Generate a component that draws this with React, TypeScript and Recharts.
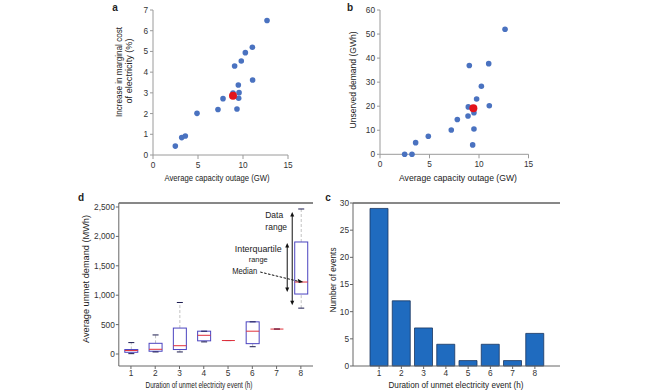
import React from "react";
import {
  ScatterChart,
  Scatter,
  BarChart,
  ComposedChart,
  Bar,
  XAxis,
  YAxis,
  ReferenceLine,
  Label,
} from "recharts";

const FONT = "'Liberation Sans', Arial, sans-serif";
const tickStyle = { fontSize: 8.3, fill: "#333", fontFamily: FONT };

// panel a: outage (GW) vs increase in marginal cost (%)
const aOutage = [2.48, 3.19, 3.59, 4.89, 7.22, 7.78, 9.07, 9.33, 9.48, 9.56, 9.52, 9.81, 10.26, 11.04, 11.07, 12.67, 8.89];
const aCost = [0.43, 0.84, 0.92, 2.01, 2.2, 2.72, 4.3, 2.22, 3.38, 3.01, 2.74, 4.54, 4.94, 5.2, 3.62, 6.49, 2.99];
const aMeanOutage = [8.89];
const aMeanCost = [2.86];

// panel b: outage (GW) vs unserved demand (GWh)
const bOutage = [2.49, 3.23, 3.6, 4.88, 7.2, 7.81, 8.89, 8.92, 9.02, 9.36, 9.49, 9.49, 9.76, 10.24, 10.98, 11.04, 12.63];
const bDemand = [0, 0, 4.85, 7.48, 10.1, 14.5, 15.9, 19.7, 36.9, 3.9, 10.5, 17.3, 23.0, 28.3, 37.7, 20.2, 52.0];
const bMeanOutage = [9.43];
const bMeanDemand = [19.1];

// panel c: events per duration
const hours = [1, 2, 3, 4, 5, 6, 7, 8];
const eventCounts = [29, 12, 7, 4, 1, 4, 1, 6];

// panel d: average unmet demand (MWh) per duration
const dMin = [6, 35, 35, 206, 229, 124, 424, 780];
const dQ1 = [29, 47, 76, 224, 229, 176, 424, 1020];
const dMedian = [59, 80, 141, 318, 229, 388, 424, 1224];
const dQ3 = [76, 182, 441, 388, 229, 547, 424, 1905];
const dMax = [194, 324, 876, 388, 229, 547, 424, 2466];

const points = (xs: number[], ys: number[]) => xs.map((x, i) => ({ x, y: ys[i] }));
const eventData = hours.map((h, i) => ({ hour: h, count: eventCounts[i] }));
const boxData = hours.map((h, i) => ({
  hour: h,
  min: dMin[i],
  q1: dQ1[i],
  median: dMedian[i],
  q3: dQ3[i],
  max: dMax[i],
}));

type TxtProps = {
  x: number;
  y: number;
  text: string;
  len?: number;
  size?: number;
  rotate?: boolean;
  bold?: boolean;
  anchor?: "start" | "middle" | "end";
};

const Txt = ({ x, y, text, len, size = 9.5, rotate, bold, anchor = "middle" }: TxtProps) => (
  <text
    x={x}
    y={y}
    textAnchor={anchor}
    dominantBaseline="central"
    fontSize={size}
    fontFamily={FONT}
    fontWeight={bold ? 700 : 400}
    fill="#222"
    textLength={len}
    lengthAdjust={len ? "spacingAndGlyphs" : undefined}
    transform={rotate ? `rotate(-90 ${x} ${y})` : undefined}
  >
    {text}
  </text>
);

const dot = (r: number, fill: string) => (p: any) => <circle cx={p.cx} cy={p.cy} r={r} fill={fill} />;

const Arrow = ({ x, y1, y2 }: { x: number; y1: number; y2: number }) => (
  <g>
    <line x1={x} x2={x} y1={y1 + 3} y2={y2 - 3} stroke="#111" strokeWidth={1} />
    <polygon points={`${x},${y1} ${x - 2},${y1 + 4.5} ${x + 2},${y1 + 4.5}`} fill="#111" />
    <polygon points={`${x},${y2} ${x - 2},${y2 - 4.5} ${x + 2},${y2 - 4.5}`} fill="#111" />
  </g>
);

// box drawn from a bar spanning 0..max, so the value scale can be recovered
const BoxShape = (p: any) => {
  const { x, y, width, height, payload, index } = p;
  const { min, q1, median, q3, max } = payload;
  const py = (v: number) => y + height * (1 - v / max);
  const cx = x + width / 2;
  const last = index === boxData.length - 1;
  return (
    <g>
      <line x1={cx} x2={cx} y1={py(q3)} y2={py(max)} stroke="#c2c2c2" strokeDasharray="3 2" />
      <line x1={cx} x2={cx} y1={py(min)} y2={py(q1)} stroke="#c2c2c2" strokeDasharray="3 2" />
      <rect x={x} y={py(q3)} width={width} height={py(q1) - py(q3)} fill="#fff" stroke="#4b44c0" strokeWidth={1} />
      <line x1={cx - 3} x2={cx + 3} y1={py(max)} y2={py(max)} stroke="#1b1b4f" />
      <line x1={cx - 3} x2={cx + 3} y1={py(min)} y2={py(min)} stroke="#1b1b4f" />
      <line x1={x} x2={x + width} y1={py(median)} y2={py(median)} stroke="#e0303a" strokeWidth={1} />
      {last && (
        <g>
          <Arrow x={cx - 9} y1={py(max) + 3} y2={py(min) - 3} />
          <Arrow x={cx - 14} y1={py(q3) + 1} y2={py(q1) - 2} />
          <Txt x={cx - 27} y={py(max) + 6} text="Data" size={8.5} />
          <Txt x={cx - 25} y={py(max) + 18} text="range" size={8.5} />
          <Txt x={cx - 43} y={py(q3) + 7} text="Interquartile" size={8.8} len={47} />
          <Txt x={cx - 43} y={py(q3) + 18} text="range" size={7.4} />
          <Txt x={cx - 44} y={py(median) - 11} text="Median" size={8.2} anchor="end" len={25} />
          <line
            x1={cx - 41}
            y1={py(median) - 10}
            x2={cx - 2}
            y2={py(median) - 0.5}
            stroke="#111"
            strokeDasharray="2.5 1.5"
          />
          <polygon
            points={`${cx + 2},${py(median)} ${cx - 3.5},${py(median) - 3.3} ${cx - 2.5},${py(median) + 1}`}
            fill="#111"
          />
        </g>
      )}
    </g>
  );
};

const grayAxis = { stroke: "#9a9a9a" };
const darkAxis = { stroke: "#666" };

const App = () => {
  return (
    <div style={{ position: "absolute", left: 0, top: 0, width: 650, height: 390, background: "#fff" }}>
      {/* a */}
      <div style={{ position: "absolute", left: 0, top: 0 }}>
        <ScatterChart width={300} height={190} margin={{ top: 10, right: 12, bottom: 15, left: 113 }}>
          <XAxis
            type="number"
            dataKey="x"
            domain={[0, 15]}
            ticks={[0, 5, 10, 15]}
            height={20}
            tickSize={4}
            tickMargin={3}
            tick={tickStyle}
            axisLine={grayAxis}
            tickLine={grayAxis}
          />
          <YAxis
            type="number"
            dataKey="y"
            domain={[0, 7]}
            ticks={[0, 1, 2, 3, 4, 5, 6, 7]}
            width={40}
            tickSize={3}
            tickMargin={2}
            tick={tickStyle}
            axisLine={grayAxis}
            tickLine={grayAxis}
          >
            <Label
              content={() => (
                <g>
                  <Txt x={115} y={7} text="a" bold size={10} />
                  <Txt x={118} y={72} text="Increase in marginal cost" rotate len={90} />
                  <Txt x={128} y={71} text="of electricity (%)" rotate len={65} />
                  <Txt x={217} y={177} text="Average capacity outage (GW)" len={105} />
                </g>
              )}
            />
          </YAxis>
          <Scatter data={points(aOutage, aCost)} shape={dot(2.8, "#4a72c0")} isAnimationActive={false} />
          <Scatter data={points(aMeanOutage, aMeanCost)} shape={dot(4, "#e3141c")} isAnimationActive={false} />
        </ScatterChart>
      </div>

      {/* b */}
      <div style={{ position: "absolute", left: 300, top: 0 }}>
        <ScatterChart width={250} height={190} margin={{ top: 10, right: 21.5, bottom: 15.7, left: 40 }}>
          <XAxis
            type="number"
            dataKey="x"
            domain={[0, 15]}
            ticks={[0, 5, 10, 15]}
            height={20}
            tickSize={4}
            tickMargin={3}
            tick={tickStyle}
            axisLine={grayAxis}
            tickLine={grayAxis}
          />
          <YAxis
            type="number"
            dataKey="y"
            domain={[0, 60]}
            ticks={[0, 10, 20, 30, 40, 50, 60]}
            width={40}
            tickSize={3}
            tickMargin={2}
            tick={tickStyle}
            axisLine={grayAxis}
            tickLine={grayAxis}
          >
            <Label
              content={() => (
                <g>
                  <Txt x={50} y={7} text="b" bold size={10} />
                  <Txt x={52} y={80} text="Unserved demand (GWh)" rotate len={97} />
                  <Txt x={158} y={177} text="Average capacity outage (GW)" len={118} />
                </g>
              )}
            />
          </YAxis>
          <Scatter data={points(bOutage, bDemand)} shape={dot(2.8, "#4a72c0")} isAnimationActive={false} />
          <Scatter data={points(bMeanOutage, bMeanDemand)} shape={dot(4, "#e3141c")} isAnimationActive={false} />
        </ScatterChart>
      </div>

      {/* d */}
      <div style={{ position: "absolute", left: 40, top: 190 }}>
        <ComposedChart width={290} height={200} data={boxData} margin={{ top: 13, right: 17, bottom: 10, left: 38.8 }}>
          <XAxis
            dataKey="hour"
            height={14}
            tickSize={3}
            tickMargin={1}
            tick={tickStyle}
            axisLine={darkAxis}
            tickLine={darkAxis}
          />
          <YAxis
            domain={[-204, 2568]}
            allowDataOverflow
            ticks={[0, 500, 1000, 1500, 2000, 2500]}
            tickFormatter={(v: number) => v.toLocaleString("en-US")}
            width={40}
            tickSize={3}
            tickMargin={1}
            tick={tickStyle}
            axisLine={darkAxis}
            tickLine={darkAxis}
          >
            <Label
              content={() => (
                <g>
                  <Txt x={41} y={7} text="d" bold size={10} />
                  <Txt x={45} y={89} text="Average unmet demand (MWh)" rotate len={128} />
                  <Txt x={159} y={194} text="Duration of unmet electricity event (h)" len={107} />
                </g>
              )}
            />
          </YAxis>
          <ReferenceLine y={2568} stroke="#111" strokeWidth={1} />
          <Bar dataKey="max" barSize={13} shape={BoxShape} isAnimationActive={false} />
        </ComposedChart>
      </div>

      {/* c */}
      <div style={{ position: "absolute", left: 310, top: 190 }}>
        <BarChart width={270} height={200} data={eventData} margin={{ top: 13, right: 20, bottom: 10, left: 13 }}>
          <XAxis
            dataKey="hour"
            height={14}
            padding={{ left: 15, right: 14 }}
            tickSize={3}
            tickMargin={1}
            tick={tickStyle}
            axisLine={darkAxis}
            tickLine={darkAxis}
          />
          <YAxis
            domain={[0, 30]}
            ticks={[0, 5, 10, 15, 20, 25, 30]}
            width={30}
            tickSize={3}
            tickMargin={1}
            tick={tickStyle}
            axisLine={darkAxis}
            tickLine={darkAxis}
          >
            <Label
              content={() => (
                <g>
                  <Txt x={18} y={7} text="c" bold size={10} />
                  <Txt x={22} y={90} text="Number of events" rotate len={65} />
                  <Txt x={146} y={194} text="Duration of unmet electricity event (h)" len={135} />
                </g>
              )}
            />
          </YAxis>
          <ReferenceLine y={30} stroke="#111" strokeWidth={1} />
          <Bar
            dataKey="count"
            barSize={18}
            fill="#1f6bbf"
            stroke="#1a3660"
            strokeWidth={0.8}
            isAnimationActive={false}
          />
        </BarChart>
      </div>
    </div>
  );
};

export default App;
